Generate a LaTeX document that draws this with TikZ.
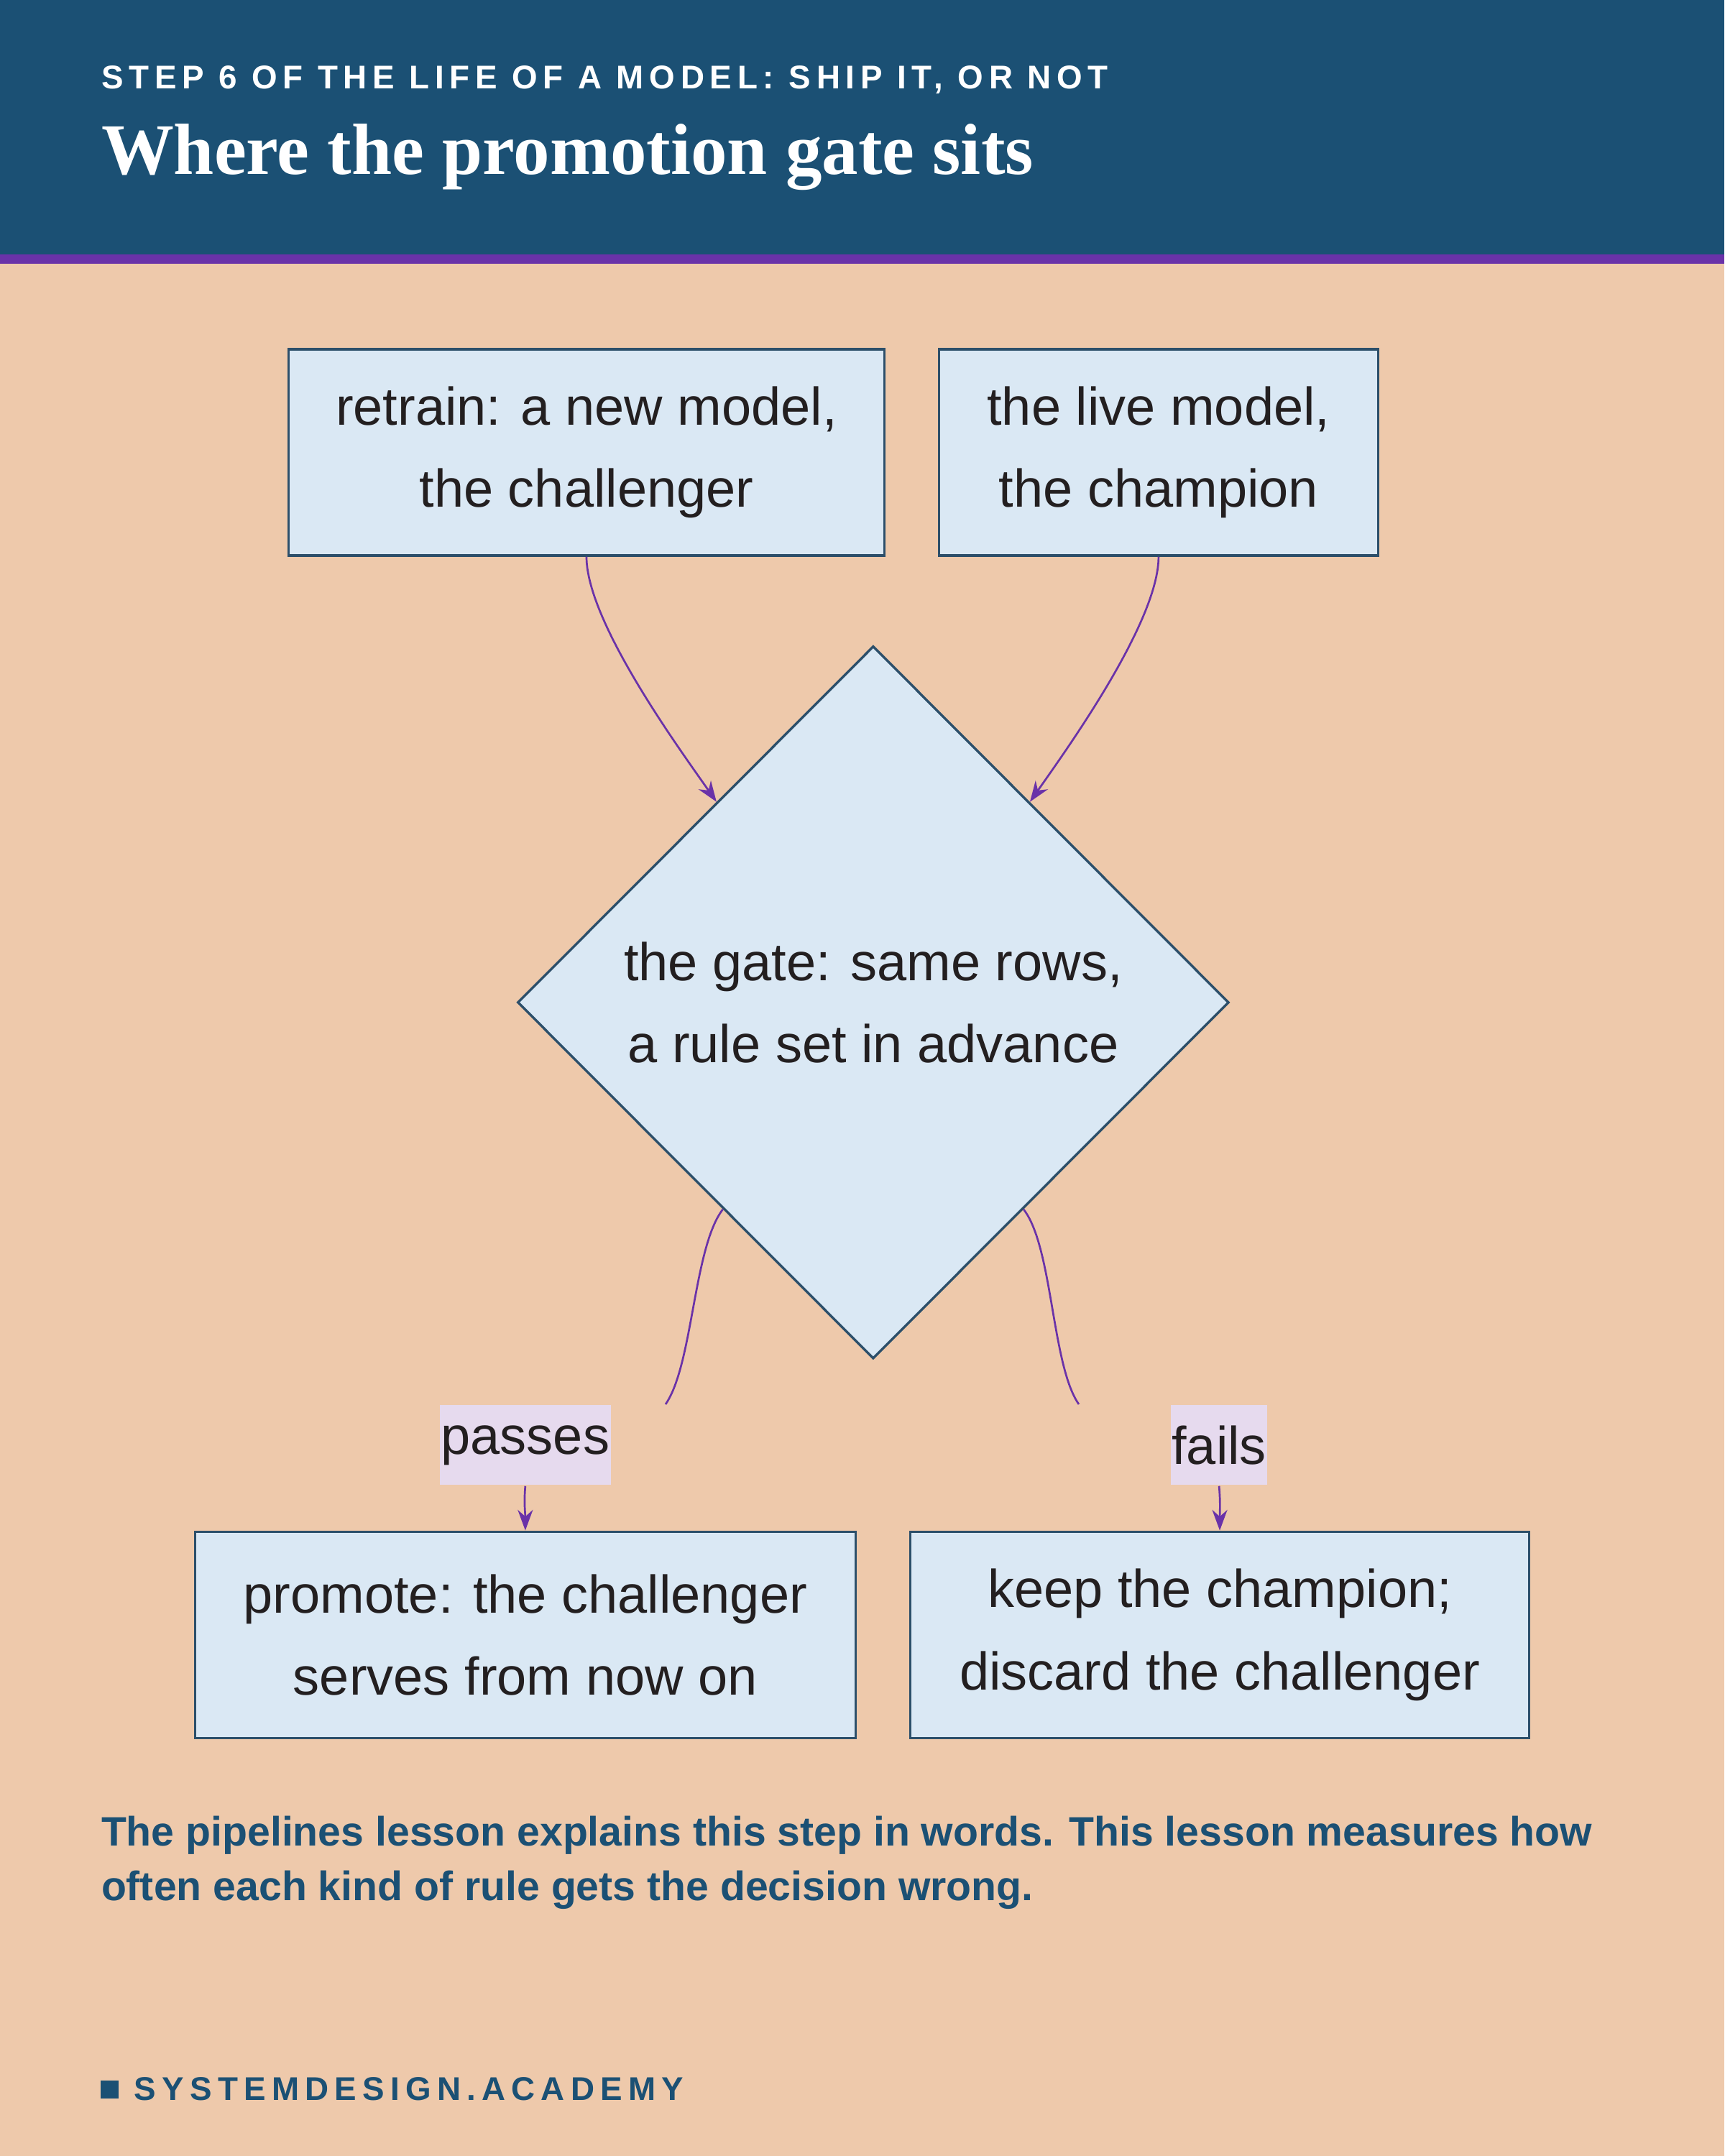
\documentclass[tikz,border=0pt]{standalone}
\usepackage{fontspec}
\setmainfont{Liberation Sans}
\newfontfamily\titlefont{Liberation Serif}
\usetikzlibrary{arrows.meta,shapes.geometric}

\definecolor{headblue}{HTML}{1B5074}
\definecolor{stripe}{HTML}{6A32A8}
\definecolor{paper}{HTML}{EEC9AB}
\definecolor{boxfill}{HTML}{DAE8F4}
\definecolor{boxline}{HTML}{2C4F6A}
\definecolor{tagfill}{HTML}{E6DAEE}
\definecolor{inktext}{HTML}{231F20}

\begin{document}
\begin{tikzpicture}[x=0.01cm, y=-0.01cm,
    >={Stealth[length=1.5mm,width=1.1mm]},
    box/.style={draw=boxline, fill=boxfill, line width=0.5pt, inner sep=0pt,
        text=inktext, align=center, font=\fontsize{11}{17}\selectfont},
    gate/.style={box, diamond, minimum width=5.17cm, minimum height=5.18cm},
    tag/.style={fill=tagfill, inner sep=0pt, minimum height=0.58cm, minimum width=0.7cm,
        text=inktext, font=\fontsize{11}{12}\selectfont},
    link/.style={draw=stripe, line width=0.4pt, ->},
]
    % Background and header
    \fill[paper] (0,0) rectangle (1254,1568);
    \fill[headblue] (0,0) rectangle (1254,185);
    \fill[stripe] (0,185) rectangle (1254,192);
    \node[anchor=west, text=white, inner sep=0pt,
        font=\bfseries\fontsize{6.8}{8}\selectfont\addfontfeature{LetterSpace=17}]
        (kicker) at (73,58) {STEP 6 OF THE LIFE OF A MODEL: SHIP IT, OR NOT};
    \node[anchor=west, text=white, inner sep=0pt,
        font=\titlefont\bfseries\fontsize{15}{17}\selectfont]
        (title) at (73,114) {Where the promotion gate sits};

    % Nodes
    \node[box, minimum width=4.33cm, minimum height=1.5cm] (retrain) at (426.5,329)
        {retrain: a new model,\\the challenger};
    \node[box, minimum width=3.19cm, minimum height=1.5cm] (champion) at (842.5,329)
        {the live model,\\the champion};
    \node[gate] (gate) at (635,729) {the gate: same rows,\\a rule set in advance};
    \node[tag, minimum width=1.24cm] (passes) at (382,1051) {passes};
    \node[tag] (fails) at (886.5,1051) {fails};
    \node[box, minimum width=4.8cm, minimum height=1.5cm] (promote) at (382,1189)
        {promote: the challenger\\serves from now on};
    \node[box, minimum width=4.5cm, minimum height=1.5cm] (keep) at (887,1189)
        {keep the champion;\\discard the challenger};

    % Connectors
    \draw[link] (retrain.south) to[out=-90, in=125, looseness=0.6] (gate.128);
    \draw[link] (champion.south) to[out=-90, in=55, looseness=0.6] (gate.52);
    \draw[link, -] (gate.-126) to[out=-128, in=55, looseness=0.6] ([xshift=29]passes.north);
    \draw[link] (passes.south) to[out=-95, in=90] (promote.north);
    \draw[link, -] (gate.-54) to[out=-52, in=125, looseness=0.6] ([xshift=-29]fails.north);
    \draw[link] (fails.south) to[out=-85, in=90] (keep.north);

    % Footer
    \node[anchor=north west, text=headblue, inner sep=0pt, align=left,
        font=\bfseries\fontsize{8.5}{11.3}\selectfont] (note) at (73,1320)
        {The pipelines lesson explains this step in words. This lesson measures how\\
         often each kind of rule gets the decision wrong.};
    \fill[headblue] (73,1513) rectangle (86,1526);
    \node[anchor=west, text=headblue, inner sep=0pt,
        font=\bfseries\fontsize{6.8}{8}\selectfont\addfontfeature{LetterSpace=18}]
        (brand) at (97,1519) {SYSTEMDESIGN.ACADEMY};
\end{tikzpicture}
\end{document}
